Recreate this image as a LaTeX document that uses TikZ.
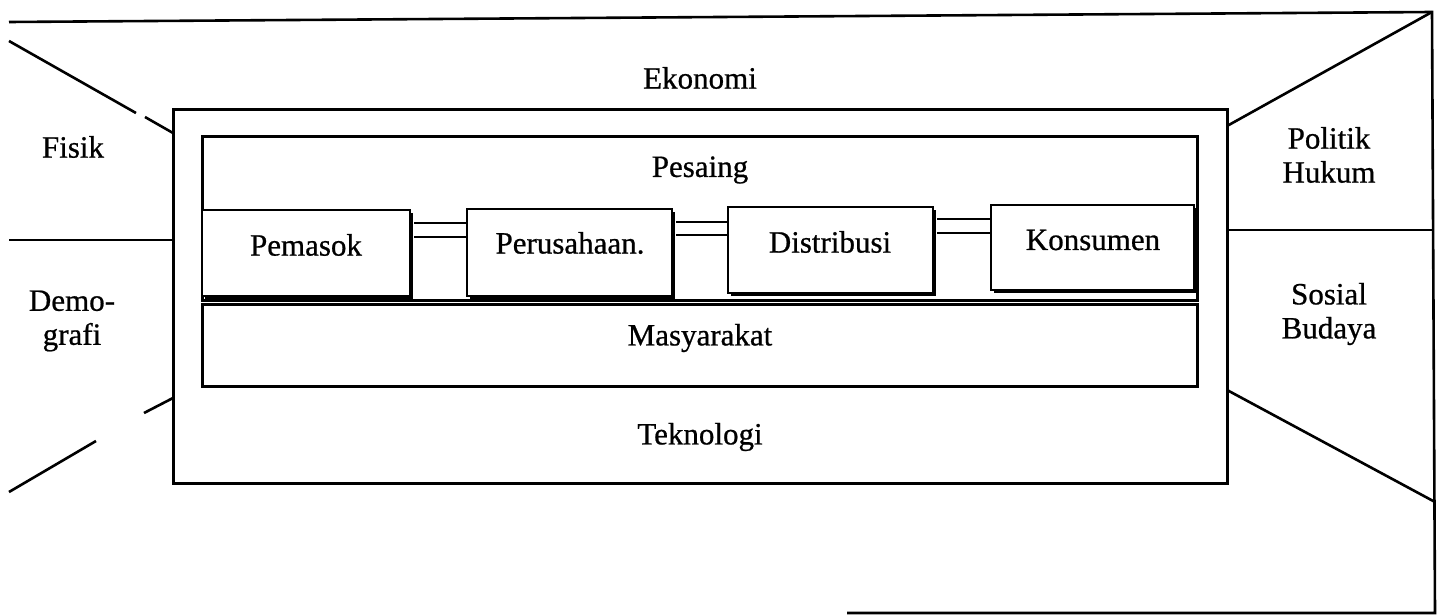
\documentclass[tikz,border=0pt]{standalone}
\usepackage{fontspec}
\setmainfont{Liberation Serif}
\newfontfamily\scanfont[FakeBold=0.7]{Liberation Serif}
\usetikzlibrary{shadows}
\begin{document}
\begin{tikzpicture}[x=1pt,y=-1pt,
  ln/.style={line width=2.6pt},
  bx/.style={draw,line width=3pt,inner sep=0pt},
  sbx/.style={draw,line width=2.8pt,fill=white,inner sep=0pt,
    drop shadow={shadow xshift=3pt,shadow yshift=-3pt,fill=black,opacity=1}},
  txt/.style={font=\scanfont\fontsize{31}{36}\selectfont,align=center,inner sep=0pt},
  cn/.style={line width=2.6pt}]
\useasboundingbox (0,0) rectangle (1441,615);
% outer frame
\coordinate (tl) at (9,22);
\coordinate (tr) at (1432,12);
\coordinate (br) at (1435,613);
\coordinate (bm) at (847,613);
\draw[ln] (tl) -- (tr) -- (br) -- (bm);
% main boxes
\node[bx,minimum width=1054pt,minimum height=373pt] (outer) at (700,296.5) {};
\node[bx,minimum width=995pt,minimum height=163pt] (pes) at (699.5,218.5) {};
\node[bx,minimum width=995pt,minimum height=82pt] (mas) at (699.5,345) {};
% left side lines
\coordinate (a1) at (9,41);
\coordinate (a2) at (136,113);
\coordinate (a3) at (145,117);
\coordinate (a4) at (173,133);
\draw[ln] (a1) -- (a2);
\draw[ln] (a3) -- (a4);
\coordinate (b1) at (9,240);
\draw[ln] (b1) -- (b1 -| outer.west);
\coordinate (c1) at (173,398);
\coordinate (c2) at (144,413);
\coordinate (c3) at (96,441);
\coordinate (c4) at (9,492);
\draw[ln] (c1) -- (c2);
\draw[ln] (c3) -- (c4);
% right side lines
\coordinate (d1) at (1227,126);
\draw[ln] (d1) -- (tr);
\coordinate (e1) at (1227,230);
\coordinate (e2) at (1433,230);
\draw[ln] (e1) -- (e2);
\coordinate (f1) at (1227,390);
\coordinate (f2) at (1435,502);
\draw[ln] (f1) -- (f2);
% small boxes
\node[sbx,minimum width=208pt,minimum height=86pt] (pem) at (306,253) {};
\node[sbx,minimum width=205pt,minimum height=87pt] (per) at (569.5,252.5) {};
\node[sbx,minimum width=205pt,minimum height=86pt] (dis) at (830.5,250) {};
\node[sbx,minimum width=203pt,minimum height=85pt] (kon) at (1092.5,247.5) {};
% double connectors
\draw[cn] ([xshift=3pt,yshift=30pt]pem.east) -- ([yshift=30pt]pem.east -| per.west);
\draw[cn] ([xshift=3pt,yshift=16pt]pem.east) -- ([yshift=16pt]pem.east -| per.west);
\draw[cn] ([xshift=3pt,yshift=30.5pt]per.east) -- ([yshift=30.5pt]per.east -| dis.west);
\draw[cn] ([xshift=3pt,yshift=17.5pt]per.east) -- ([yshift=17.5pt]per.east -| dis.west);
\draw[cn] ([xshift=3pt,yshift=31pt]dis.east) -- ([yshift=31pt]dis.east -| kon.west);
\draw[cn] ([xshift=3pt,yshift=17pt]dis.east) -- ([yshift=17pt]dis.east -| kon.west);
% texts
\node[txt] (tek) at (700,78) {Ekonomi};
\node[txt] (tfis) at (73,147) {Fisik};
\node[txt] (tpol) at (1329,155) {Politik\\[-2pt]Hukum};
\node[txt] (tdem) at (72,321) {Demo-\\[-2pt]grafi};
\node[txt] (tsos) at (1329,314) {Sosial\\[-2pt]Budaya};
\node[txt] (tpes) at (700,170) {Pesaing};
\node[txt] (tpem) at (306,245) {Pemasok};
\node[txt] (tper) at (570,243) {Perusahaan.};
\node[txt] (tdis) at (830,242) {Distribusi};
\node[txt] (tkon) at (1093,240) {Konsumen};
\node[txt] (tmas) at (700,338) {Masyarakat};
\node[txt] (ttek) at (700,437) {Teknologi};
\end{tikzpicture}
\end{document}
